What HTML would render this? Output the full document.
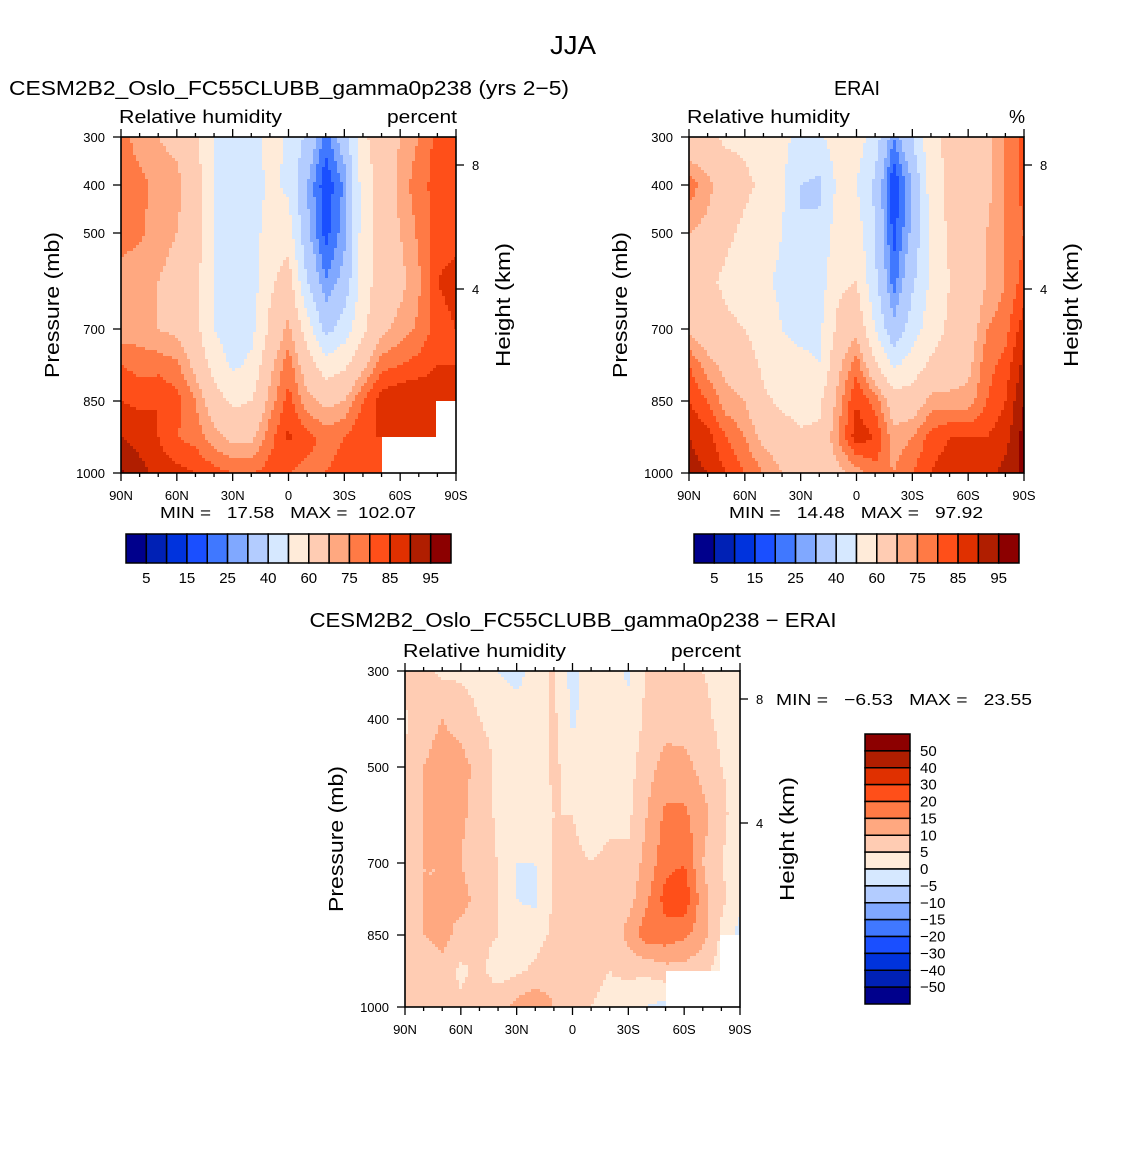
<!DOCTYPE html>
<html><head><meta charset="utf-8">
<style>
body{margin:0;background:#fff;}
svg text{font-family:"Liberation Sans",sans-serif;fill:#000;}
</style></head>
<body>
<svg id="fig" width="1146" height="1146" viewBox="0 0 1146 1146" xmlns="http://www.w3.org/2000/svg">
<rect width="1146" height="1146" fill="#fff"/>
<text x="573" y="54" font-size="26" text-anchor="middle" textLength="46" lengthAdjust="spacingAndGlyphs">JJA</text>
</svg>
<script>
const lats = [90,80,70,60,50,40,30,20,10,0,-10,-20,-30,-40,-50,-60,-70,-80,-90];
const levels = [300,400,500,600,700,775,850,925,1000];
const xTickLabels = ["90N","60N","30N","0","30S","60S","90S"];
const pTicks = [300,400,500,700,850,1000];
const hTicks = [8,4];
const absLevels = [5,10,15,20,25,30,40,50,60,70,75,80,85,90,95];
const absLabels = ["5","15","25","40","60","75","85","95"];
const diffLevels = [-50,-40,-30,-20,-15,-10,-5,0,5,10,15,20,30,40,50];
const diffLabels = ["50","40","30","20","15","10","5","0","\u22125","\u221210","\u221215","\u221220","\u221230","\u221240","\u221250"];
const palette = ["#00008c","#0021b5","#0033dd","#1a4fff","#4078ff","#80a8ff","#b3ccff","#d6e8ff","#ffebd9","#ffccb3","#ffa880","#ff7a45","#ff4f19","#e03000","#b01e00","#8c0000"];
// model RH, columns by latitude, values by level 300..1000
const model = [
[78,78,77,73,72,80,85,90,96],
[72,77,76,72,72,78,84,88,92],
[70,73,72,70,70,78,85,85,88],
[68,72,70,68,68,76,82,80,87],
[62,65,65,63,63,68,75,78,85],
[50,50,50,50,50,56,65,72,82],
[45,45,45,45,45,48,58,68,80],
[45,44,45,45,47,52,60,68,80],
[55,52,55,58,62,68,72,78,82],
[48,48,55,65,72,78,82,86,80],
[38,30,32,40,55,65,72,82,78],
[22,16,18,25,36,55,68,78,80],
[35,26,28,33,45,58,70,80,82],
[58,55,55,55,58,68,80,85,85],
[65,64,64,65,68,78,88,85,84],
[70,72,70,68,72,80,90,88,null],
[75,78,76,74,76,82,90,88,null],
[82,82,82,85,82,85,88,86,null],
[82,82,82,88,85,85,85,null,null]];
const erai = [
[62,78,70,65,68,80,85,90,92],
[62,72,68,62,65,72,80,87,90],
[58,66,62,58,62,68,72,80,85],
[58,62,58,55,60,65,70,75,80],
[55,58,55,52,55,58,62,68,75],
[52,52,50,48,50,52,58,65,70],
[48,40,40,45,48,52,55,62,68],
[48,38,42,45,48,50,58,62,65],
[55,52,55,58,62,68,72,75,68],
[55,50,55,60,68,78,85,88,72],
[45,38,40,42,50,62,78,85,78],
[25,15,18,22,32,48,65,72,75],
[40,30,32,38,45,55,65,75,80],
[58,55,52,52,55,62,72,82,85],
[62,62,62,60,62,65,72,85,88],
[65,65,65,62,65,68,72,85,88],
[68,68,70,70,75,78,80,85,88],
[75,75,75,75,78,82,85,88,92],
[82,82,80,82,88,92,95,97,96]];
const diff = [
[8,4,6,8,6,8,8,6,8],
[6,8,10,10,10,10,10,6,6],
[4,10,12,12,10,10,12,8,5],
[4,8,12,11,10,12,8,4,6],
[3,5,8,8,6,8,6,6,8],
[0,3,4,4,5,5,5,3,8],
[-2,3,3,0,0,0,2,4,12],
[2,3,3,1,0,-1,3,6,14],
[6,6,6,5,6,6,6,8,10],
[-2,-1,3,5,6,7,5,5,6],
[4,3,3,3,5,6,6,6,5],
[2,3,3,4,6,7,5,5,4],
[-1,2,3,4,6,8,12,6,2],
[6,6,8,10,12,14,18,6,0],
[6,8,12,16,18,22,18,8,-2],
[6,7,12,16,20,24,16,8,null],
[5,6,8,12,10,12,12,6,null],
[4,4,5,6,5,6,4,3,null],
[4,4,4,3,3,2,-2,null,null]];

const NS="http://www.w3.org/2000/svg";
const svg=document.getElementById('fig');
function mk(tag,attrs,parent){const e=document.createElementNS(NS,tag);for(const k in attrs)e.setAttribute(k,attrs[k]);(parent||svg).appendChild(e);return e;}
function txt(s,x,y,size,anchor,parent,extra){const e=mk('text',Object.assign({x:x,y:y,'font-size':size,'text-anchor':anchor||'start'},extra||{}),parent);e.textContent=s;return e;}
function colorFor(v,lv){let i=0;while(i<lv.length&&v>=lv[i])i++;return palette[i];}

function panel(name,x0,y0,W,H,field,lv,opts){
  const g=mk('g',{});
  
  
  const xS=lat=>x0+(90-lat)/180*W;
  const yS=p=>y0+(p-300)/700*H;
  const step=3;
  const cg=mk('g',{'shape-rendering':'crispEdges'},g);
  
  
  for(let py=0;py<H;py+=step){
    const p=300+(py+step/2)/H*700;
    let j=0;while(j<levels.length-2&&p>levels[j+1])j++;
    const ty=(p-levels[j])/(levels[j+1]-levels[j]);
    let runStart=0,runColor=null;
    const flush=(end)=>{if(runColor){mk('rect',{x:x0+runStart,y:y0+py,width:end-runStart,height:Math.min(step,H-py),fill:runColor},cg);}};
    for(let px=0;px<W;px+=step){
      const lat=90-(px+step/2)/W*180;
      let i=Math.min(17,Math.floor((90-lat)/10));
      const tx=((90-lat)-i*10)/10;
      const a=field[i][j],b=field[i+1][j],c=field[i][j+1],d=field[i+1][j+1];
      let col=null;
      if(a!==null&&b!==null&&c!==null&&d!==null){
        const v=a*(1-tx)*(1-ty)+b*tx*(1-ty)+c*(1-tx)*ty+d*tx*ty;
        col=colorFor(v,lv);
      }
      if(col!==runColor){flush(px);runStart=px;runColor=col;}
    }
    flush(W);
  }
  const fr=mk('rect',{x:x0,y:y0,width:W,height:H,fill:'none',stroke:'#000','stroke-width':1.6},g);
  
  
  for(let lat=90;lat>=-90;lat-=10){
    const x=xS(lat);const major=lat%30===0;const L=major?8:4;
    mk('line',{x1:x,y1:y0,x2:x,y2:y0-L,stroke:'#000','stroke-width':1.3},g);
    mk('line',{x1:x,y1:y0+H,x2:x,y2:y0+H+L,stroke:'#000','stroke-width':1.3},g);
  }
  xTickLabels.forEach((s,k)=>{const t=txt(s,xS(90-30*k),y0+H+27,13,'middle',g);
    
    });
  pTicks.forEach(p=>{const y=yS(p);mk('line',{x1:x0,y1:y,x2:x0-8,y2:y,stroke:'#000','stroke-width':1.3},g);
    const t=txt(String(p),x0-16,y+5,13,'end',g);
    
    });
  const hy={8:28/336,4:152/336};
  hTicks.forEach(h=>{const y=y0+hy[h]*H;mk('line',{x1:x0+W,y1:y,x2:x0+W+8,y2:y,stroke:'#000','stroke-width':1.3},g);
    const t=txt(String(h),x0+W+16,y+5,13,'start',g);
    
    });
  const yl=txt('Pressure (mb)',0,0,20,'middle',g,{transform:`translate(${x0-62},${y0+168}) rotate(-90)`,textLength:146,lengthAdjust:'spacingAndGlyphs'});
  
  
  const hl=txt('Height (km)',0,0,20,'middle',g,{transform:`translate(${x0+W+54},${y0+168}) rotate(-90)`,textLength:124,lengthAdjust:'spacingAndGlyphs'});
  
  
  const lt=txt('Relative humidity',x0-2,y0-14,18,'start',g,{textLength:163,lengthAdjust:'spacingAndGlyphs'});
  
  
  const rtExtra=opts.units==='percent'?{textLength:70,lengthAdjust:'spacingAndGlyphs'}:{};
  const rt=txt(opts.units,x0+W+1,y0-14,18,'end',g,rtExtra);
  
  
}
panel('model-panel',121,137,335,336,model,absLevels,{units:'percent'});
panel('erai-panel',689,137,335,336,erai,absLevels,{units:'%'});
panel('diff-panel',405,671,335,336,diff,diffLevels,{units:'percent'});

function ttl(s,x,y,size,anchor,name,len){const ex=len?{textLength:len,lengthAdjust:'spacingAndGlyphs'}:{};const t=txt(s,x,y,size,anchor,null,ex);t.style.whiteSpace='pre';return t;}
ttl('CESM2B2_Oslo_FC55CLUBB_gamma0p238 (yrs 2\u22125)',289,95,20,'middle','model-title',560);
ttl('ERAI',857,95,20,'middle','erai-title',46);
ttl('CESM2B2_Oslo_FC55CLUBB_gamma0p238 \u2212 ERAI',573,627,20,'middle','diff-title',527);
ttl('MIN =   17.58   MAX =  102.07',288,518,16,'middle','model-minmax',256);
ttl('MIN =   14.48   MAX =   97.92',856,518,16,'middle','erai-minmax',254);
ttl('MIN =   \u22126.53   MAX =   23.55',776,705,16,'start','diff-minmax',256);

function hbar(name,x0,y0,W,H){
  const g=mk('g',{});
  
  
  const bw=W/palette.length;
  palette.forEach((c,k)=>{const r=mk('rect',{x:x0+k*bw,y:y0,width:bw,height:H,fill:c,stroke:'#000','stroke-width':1.5},g);
    
    });
  absLabels.forEach((s,k)=>{const t=txt(s,x0+(1+2*k)*bw,y0+H+20,15,'middle',g);
    
    });
}
hbar('model-colorbar',126,534,325,29);
hbar('erai-colorbar',694,534,325,29);
(function(){
  const g=mk('g',{});
  
  
  const x0=865,y0=734,W=45,H=270,bh=H/palette.length;
  palette.slice().reverse().forEach((c,k)=>{const r=mk('rect',{x:x0,y:y0+k*bh,width:W,height:bh,fill:c,stroke:'#000','stroke-width':1.5},g);
    
    });
  diffLabels.forEach((s,k)=>{const t=txt(s,x0+W+10,y0+(k+1)*bh+5,15,'start',g);
    
    });
})();
</script>
</body></html>
